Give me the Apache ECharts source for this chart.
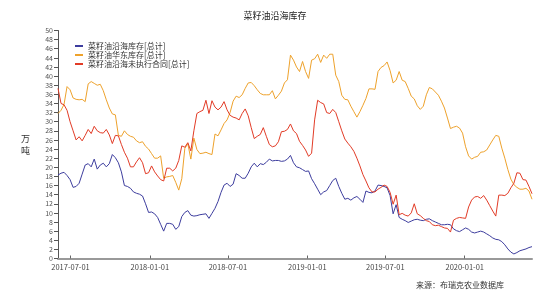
<!DOCTYPE html>
<html><head><meta charset="utf-8">
<script src="https://cdn.jsdelivr.net/npm/echarts@6/dist/echarts.min.js"></script>
<style>html,body{margin:0;padding:0;background:#fff}#c{width:550px;height:292px}</style>
</head><body><div id="c"></div>
<script>
const titleText = '菜籽油沿海库存';
const seriesNames = ['菜籽油沿海库存[总计]', '菜籽油华东库存[总计]', '菜籽油沿海未执行合同[总计]'];
const startDate = [2017, 5, 2];   // first weekly observation (2017-06-02)
const weekCount = 158;
const tickDates = ['2017-07-01', '2018-01-01', '2018-07-01', '2019-01-01', '2019-07-01', '2020-01-01'];

const coastal = [18.3,18.7,18.9,18.2,17.3,15.6,15.8,16.5,18.5,20.5,20.8,20.1,21.8,19.6,20.5,20.9,20.1,20.8,22.8,22.1,
21.0,19.0,16.0,15.8,15.4,14.6,14.3,14.1,13.7,12.0,10.1,10.2,9.8,9.0,7.5,6.0,7.7,7.7,7.5,6.4,
7.0,9.2,10.1,10.5,9.5,9.3,9.4,9.6,9.7,9.8,8.8,9.9,11.0,12.5,14.5,16.1,16.5,15.8,16.3,18.6,
18.2,17.6,17.6,18.7,20.1,20.9,20.1,20.8,20.6,21.1,21.8,21.4,21.5,21.5,21.3,21.4,21.8,22.6,21.0,20.1,
19.9,19.5,19.1,19.2,17.5,16.4,15.2,14.0,14.6,14.9,16.0,17.1,17.6,15.8,14.3,13.0,13.2,12.8,13.3,13.6,
13.0,12.3,14.8,14.5,14.4,14.8,16.1,16.0,15.8,15.5,13.8,9.8,11.8,9.0,8.6,8.3,7.9,8.2,8.5,8.6,
8.4,8.3,8.6,8.7,8.3,8.0,7.7,7.4,7.4,7.5,7.4,6.5,6.1,5.9,6.3,6.7,6.4,5.8,5.6,5.8,
6.0,5.8,5.4,5.0,4.5,4.2,4.1,3.7,3.0,2.1,1.4,1.0,1.3,1.7,1.9,2.1,2.4,2.6];

const eastChina = [31.8,32.5,33.8,37.7,37.0,35.2,34.9,34.8,34.9,34.4,38.3,38.8,38.4,38.0,38.2,36.8,34.8,33.0,31.7,31.5,
27.0,26.8,28.0,27.2,26.8,26.6,25.8,25.4,25.6,24.6,24.0,23.0,22.0,22.0,22.5,17.6,17.9,18.0,18.2,16.7,
15.0,17.5,24.1,25.2,21.8,26.4,23.9,23.0,23.1,23.3,23.0,22.8,27.3,26.9,28.2,29.6,30.4,32.0,34.5,35.6,
35.3,35.9,37.3,38.5,38.6,37.9,37.0,36.2,35.9,35.9,35.9,36.8,35.0,35.8,36.7,38.5,39.2,44.6,43.5,42.0,
41.0,43.2,41.0,39.5,43.5,43.8,44.8,43.0,44.6,43.9,44.8,44.8,40.2,38.8,35.8,34.9,34.8,33.4,32.2,31.0,
32.2,33.6,35.1,37.2,37.2,37.1,41.0,41.9,42.3,43.1,41.2,38.5,39.1,41.0,39.1,38.8,37.3,35.6,35.0,33.5,
32.7,33.4,35.9,37.5,37.2,36.5,35.8,34.5,33.0,30.8,28.5,28.8,29.0,28.6,27.5,24.5,22.5,21.8,22.2,22.4,
23.3,23.4,23.8,24.9,26.0,27.0,26.8,24.2,22.0,19.5,17.4,16.2,15.6,15.2,15.2,15.4,14.8,13.0];

const unexecuted = [37.3,34.0,33.7,32.5,30.0,28.0,26.0,26.7,25.8,27.0,28.3,27.4,29.0,28.0,27.6,27.5,28.3,27.1,25.2,27.0,
26.9,25.0,23.3,22.0,20.1,20.1,21.2,22.1,21.0,18.6,18.8,20.3,19.0,18.1,17.3,17.0,19.8,19.8,19.2,19.8,
21.5,24.7,24.4,25.4,23.6,28.0,31.8,32.2,32.5,34.7,31.8,34.6,33.2,32.6,33.2,34.4,32.6,31.4,31.0,30.8,
30.4,31.8,32.8,31.3,28.7,26.3,26.8,27.2,28.7,26.8,25.0,24.5,24.7,25.6,27.8,27.9,28.3,29.5,28.0,27.4,
25.7,24.8,23.8,22.4,23.1,30.4,34.7,34.2,33.9,32.0,31.8,32.7,32.0,30.0,28.0,26.2,25.3,24.5,23.5,22.0,
20.3,18.4,17.0,15.5,14.6,14.6,15.2,15.6,16.1,15.8,14.5,11.9,13.9,9.6,9.9,9.5,9.3,10.0,12.0,9.8,
9.4,8.8,8.3,8.1,7.4,7.2,7.3,7.0,6.7,6.6,5.8,8.4,8.8,9.0,8.9,8.8,11.3,12.8,13.5,13.6,
13.2,13.8,12.8,11.6,10.4,9.3,13.9,13.9,13.8,14.3,15.5,16.5,18.8,18.7,17.3,17.2,15.8,14.2];

const colors = ['#3d3d9e', '#eea22c', '#e23b26'];

const DAY = 86400000;
const t0 = Date.UTC(startDate[0], startDate[1], startDate[2]);
const dates = [];
for (let i = 0; i < weekCount; i++) dates.push(t0 + i * 7 * DAY);
const tickTimes = tickDates.map(s => { const p = s.split('-').map(Number); return Date.UTC(p[0], p[1]-1, p[2]); });
function fmtDate(v) {
  const d = new Date(v);
  const p = n => String(n).padStart(2, '0');
  return d.getUTCFullYear() + '-' + p(d.getUTCMonth() + 1) + '-' + p(d.getUTCDate());
}
function pairs(arr) { return arr.map((v, i) => [dates[i], v]); }

const FONT = '"Noto Sans CJK SC", "Noto Sans", sans-serif';
const chart = echarts.init(document.getElementById('c'), null, {renderer: 'canvas'});
chart.setOption({
  animation: false,
  backgroundColor: '#fff',
  color: colors,
  title: {
    text: titleText, left: 'center', top: 6,
    textStyle: {fontSize: 9, fontWeight: 'normal', color: '#222', fontFamily: FONT}
  },
  legend: {
    orient: 'vertical', left: 70, top: 37, itemGap: 1,
    itemWidth: 8, itemHeight: 2, icon: 'rect',
    textStyle: {fontSize: 8, color: '#333', fontFamily: FONT},
    data: seriesNames
  },
  grid: {left: 58, right: 18, top: 30.5, bottom: 33.5, containLabel: false},
  xAxis: {
    type: 'value',
    min: dates[0], max: dates[dates.length - 1],
    axisLine: {lineStyle: {color: '#999', width: 2}},
    axisTick: {show: true, length: 3, inside: true, lineStyle: {color: '#666'}, customValues: tickTimes},
    axisLabel: {customValues: tickTimes, fontSize: 7.5, color: '#444', fontFamily: FONT, margin: 5, formatter: fmtDate},
    splitLine: {show: false}
  },
  yAxis: {
    type: 'value', min: 0, max: 50, interval: 2,
    name: '万\n吨', nameLocation: 'middle', nameGap: 28, nameRotate: 0,
    nameTextStyle: {fontSize: 9, color: '#333', fontFamily: FONT, lineHeight: 12},
    axisLine: {show: true, lineStyle: {color: '#555', width: 1}},
    axisTick: {show: true, length: 4, lineStyle: {color: '#555'}},
    axisLabel: {fontSize: 7, color: '#555', fontFamily: FONT, margin: 5},
    splitLine: {show: false}
  },
  graphic: [{
    type: 'text', left: 416, top: 281,
    style: {text: '来源：布瑞克农业数据库', fontSize: 8, fill: '#333', fontFamily: FONT}
  }],
  series: [
    {name: seriesNames[0], type: 'line', data: pairs(coastal), showSymbol: false, lineStyle: {width: 1}},
    {name: seriesNames[1], type: 'line', data: pairs(eastChina), showSymbol: false, lineStyle: {width: 1}},
    {name: seriesNames[2], type: 'line', data: pairs(unexecuted), showSymbol: false, lineStyle: {width: 1}}
  ]
});
</script></body></html>
